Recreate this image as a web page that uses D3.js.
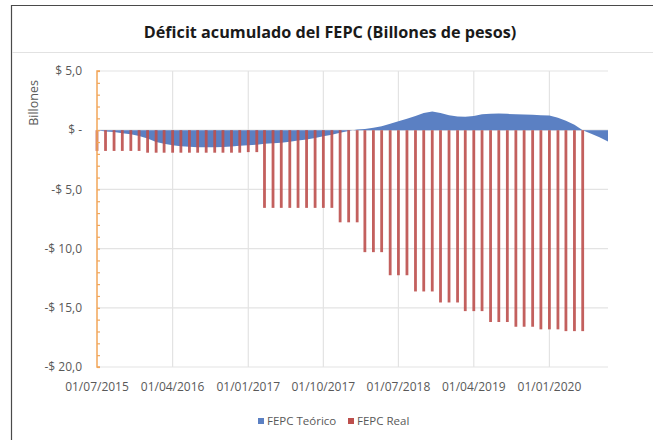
<!DOCTYPE html>
<html>
<head>
<meta charset="utf-8">
<script src="https://cdn.jsdelivr.net/npm/d3@7"></script>
<style>
  body { margin: 0; background: #fff; }
  svg { display: block; font-family: "Open Sans", "Liberation Sans", sans-serif; }
</style>
</head>
<body>
<div id="chart"></div>
<script>
const width = 653;
const height = 440;

// monthly values, Jul 2015 .. Aug 2020 (billones de pesos)
const teorico = [
  0, -0.1, -0.15, -0.25, -0.35, -0.5, -0.7, -1.0, -1.15, -1.28,
  -1.35, -1.4, -1.43, -1.44, -1.44, -1.42, -1.38, -1.32, -1.27, -1.22,
  -1.15, -1.1, -1.05, -0.98, -0.88, -0.78, -0.65, -0.52, -0.38, -0.22,
  -0.06, 0.05, 0.1, 0.2, 0.34, 0.55, 0.76, 0.97, 1.2, 1.45,
  1.58, 1.45, 1.26, 1.15, 1.14, 1.2, 1.35, 1.38, 1.4, 1.38,
  1.35, 1.32, 1.3, 1.27, 1.24, 1.05, 0.8, 0.45, 0.0, -0.3,
  -0.6, -0.95
];
const real = [
  -1.75, -1.75, -1.75, -1.75, -1.75, -1.75, -1.9, -1.9, -1.9, -1.9,
  -1.9, -1.9, -1.9, -1.9, -1.9, -1.9, -1.9, -1.9, -1.85, -1.85,
  -6.56, -6.56, -6.56, -6.56, -6.56, -6.56, -6.56, -6.56, -6.56, -7.78,
  -7.78, -7.78, -10.3, -10.3, -10.3, -12.25, -12.25, -12.25, -13.62, -13.62,
  -13.62, -14.55, -14.55, -14.55, -15.28, -15.28, -15.28, -16.2, -16.2, -16.2,
  -16.6, -16.6, -16.6, -16.82, -16.82, -16.82, -16.97, -16.97, -16.97
];
const firstMonth = new Date(2015, 6, 1);
const months = d3.timeMonth.range(firstMonth, new Date(2020, 8, 1));
const xTicks = ["01/07/2015", "01/04/2016", "01/01/2017", "01/10/2017",
                "01/07/2018", "01/04/2019", "01/01/2020"];
const yTicks = [5, 0, -5, -10, -15, -20];
const seriesNames = ["FEPC Teórico", "FEPC Real"];
const colors = ["#5b80c3", "#bd4f4c"];

const margin = {top: 71, right: 45, bottom: 73, left: 97};
const parseDay = d3.timeParse("%d/%m/%Y");

const svg = d3.select("#chart").append("svg")
  .attr("width", width)
  .attr("height", height);

// frame
svg.append("path")
  .attr("d", `M11.5,440V5.5H653`)
  .attr("fill", "none")
  .attr("stroke", "#4a4a4a")
  .attr("stroke-width", 1.2);
svg.append("line")
  .attr("x1", 12).attr("x2", 653)
  .attr("y1", 52.5).attr("y2", 52.5)
  .attr("stroke", "#e2e2e2");

svg.append("text")
  .attr("x", 330).attr("y", 38)
  .attr("text-anchor", "middle")
  .attr("font-size", 16.2)
  .attr("font-weight", "bold")
  .attr("fill", "#1a1a1a")
  .text("Déficit acumulado del FEPC (Billones de pesos)");

const x = d3.scaleTime()
  .domain([firstMonth, months[months.length - 1]])
  .range([margin.left, width - margin.right]);
const y = d3.scaleLinear()
  .domain([-20, 5])
  .range([height - margin.bottom, margin.top]);

const fmtY = v => v === 0 ? "$ -" : (v < 0 ? "-$ " : "$ ") + d3.format(".1f")(Math.abs(v)).replace(".", ",");

// grid
svg.append("g").selectAll("line").data(yTicks).enter().append("line")
  .attr("x1", margin.left).attr("x2", width - margin.right)
  .attr("y1", d => y(d)).attr("y2", d => y(d))
  .attr("stroke", "#e3e3e3").attr("stroke-width", 1.2);
svg.append("g").selectAll("line").data(xTicks.slice(1)).enter().append("line")
  .attr("x1", d => x(parseDay(d))).attr("x2", d => x(parseDay(d)))
  .attr("y1", y(5)).attr("y2", y(-20))
  .attr("stroke", "#e3e3e3").attr("stroke-width", 1.2);

// Teórico area
const area = d3.area()
  .x((d, i) => x(months[i]))
  .y0(y(0))
  .y1(d => y(d));
svg.append("path")
  .datum(teorico)
  .attr("d", area)
  .attr("fill", colors[0]);

// Real bars
svg.append("g").selectAll("rect").data(real).enter().append("rect")
  .attr("x", (d, i) => x(months[i]) - 1.4)
  .attr("width", 2.8)
  .attr("y", y(0))
  .attr("height", d => y(d) - y(0))
  .attr("fill", colors[1])
  .attr("opacity", 0.9);

// y axis (orange, minor ticks each unit)
const yAxis = d3.axisRight(y)
  .ticks(25)
  .tickSize(3)
  .tickFormat("");
svg.append("g")
  .attr("transform", `translate(${margin.left},0)`)
  .call(yAxis)
  .call(g => g.select(".domain").attr("stroke", "#f2a65a").attr("stroke-width", 1.5).attr("d", `M3,${y(5)}H0V${y(-20)}H3`))
  .call(g => g.selectAll(".tick line").attr("stroke", "#f2a65a").attr("stroke-width", 1.2));

// y labels
svg.append("g").selectAll("text").data(yTicks).enter().append("text")
  .attr("x", 82)
  .attr("y", d => y(d))
  .attr("dy", "0.35em")
  .attr("text-anchor", "end")
  .attr("font-size", 12)
  .attr("fill", "#595959")
  .text(fmtY);

svg.append("text")
  .attr("transform", "translate(38,103) rotate(-90)")
  .attr("text-anchor", "middle")
  .attr("font-size", 12.5)
  .attr("fill", "#595959")
  .text("Billones");

// x labels
svg.append("g").selectAll("text").data(xTicks).enter().append("text")
  .attr("x", d => x(parseDay(d)))
  .attr("y", 391)
  .attr("text-anchor", "middle")
  .attr("font-size", 12)
  .attr("fill", "#595959")
  .text(d => d);

// legend
const legendX = [258, 348];
const legend = svg.append("g").selectAll("g").data(seriesNames).enter().append("g")
  .attr("transform", (d, i) => `translate(${legendX[i]},418)`);
legend.append("rect")
  .attr("width", 6).attr("height", 6)
  .attr("fill", (d, i) => colors[i]);
legend.append("text")
  .attr("x", 9).attr("y", 3)
  .attr("dy", "0.35em")
  .attr("font-size", 11.5)
  .attr("fill", "#595959")
  .text(d => d);
</script>
</body>
</html>
